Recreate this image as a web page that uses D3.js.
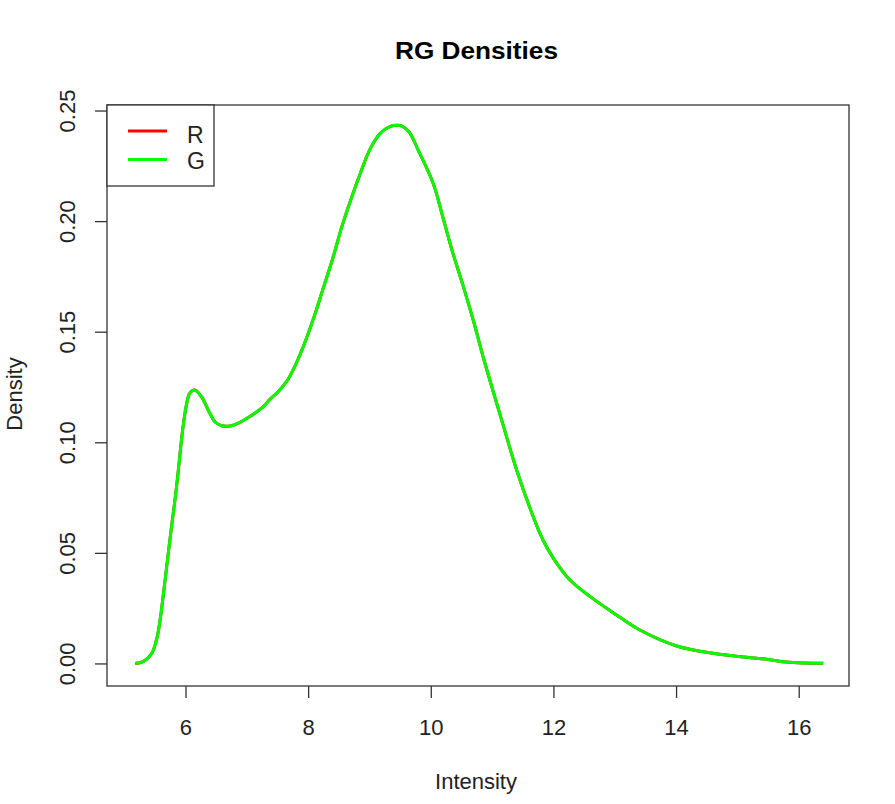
<!DOCTYPE html>
<meta charset="utf-8">
<style>
    html, body { margin: 0; padding: 0; background: #fff; }
    body { width: 895px; height: 804px; overflow: hidden; }
    text { font-family: "Liberation Sans", Arial, sans-serif; fill: #222; }
</style>
<script src="https://d3js.org/d3.v7.min.js"></script>
<div id="chart"></div>
<script>
    // density curve (G channel; R is hidden under it)
    const intensity = [5.18, 5.31, 5.45, 5.53, 5.58, 5.63, 5.72, 5.78, 5.84, 5.88, 5.96, 6.02, 6.07, 6.15, 6.26, 6.37,
        6.48, 6.59, 6.75, 6.89, 7.05, 7.27, 7.38, 7.5, 7.65, 7.76, 7.92, 8.1, 8.25, 8.4, 8.55, 8.7, 8.85, 9.0,
        9.17, 9.34, 9.45, 9.53, 9.65, 9.8, 10.04, 10.2, 10.35, 10.53, 10.7, 10.86, 11.13, 11.4, 11.67, 11.83,
        12.0, 12.27, 12.6, 13.03, 13.41, 14.01, 14.6, 15.15, 15.5, 15.8, 16.1, 16.4];
    const densityG = [0.0, 0.0008, 0.0046, 0.011, 0.0185, 0.029, 0.05, 0.0635, 0.0765, 0.0865, 0.107, 0.1176, 0.1222,
        0.1236, 0.1206, 0.1146, 0.1093, 0.1075, 0.1075, 0.109, 0.1116, 0.1161, 0.1195, 0.1225, 0.1275, 0.133,
        0.1432, 0.157, 0.17, 0.183, 0.1975, 0.21, 0.2215, 0.232, 0.2395, 0.2428, 0.2433, 0.243, 0.2402, 0.2318,
        0.217, 0.2015, 0.1865, 0.1705, 0.1545, 0.138, 0.1125, 0.0875, 0.0664, 0.0558, 0.0475, 0.0377, 0.0302,
        0.0219, 0.0151, 0.0079, 0.0046, 0.0028, 0.0018, 0.0006, 0.0002, 0.0001];
    const densityR = densityG.slice();

    const xTicks = [6, 8, 10, 12, 14, 16];
    const yTicks = [0, 0.05, 0.10, 0.15, 0.20, 0.25];
    const legendKeys = ["R", "G"];
    const colors = {R: "#ff0000", G: "#00ff00"};

    const W = 895, H = 804;
    const box = {left: 107, right: 849, top: 105, bottom: 686};

    const svg = d3.select("#chart").append("svg")
        .attr("width", W).attr("height", H);

    const x = d3.scaleLinear().domain([4.72, 16.82]).range([box.left, box.right]);
    const y = d3.scaleLinear().domain([-0.0102, 0.2525]).range([box.bottom, box.top]);

    // title
    svg.append("text")
        .attr("x", 395).attr("y", 59)
        .attr("textLength", 163).attr("lengthAdjust", "spacingAndGlyphs")
        .style("font-size", "23px").style("font-weight", "bold").style("fill", "#000")
        .text("RG Densities");

    // x axis
    const xa = svg.append("g")
        .attr("transform", `translate(0,${box.bottom})`)
        .call(d3.axisBottom(x).tickValues(xTicks).tickSize(12).tickSizeOuter(0).tickPadding(22)
            .tickFormat(d3.format("d")));
    xa.select(".domain").remove();
    xa.selectAll("line").attr("stroke", "#333").attr("stroke-width", 1.3);
    xa.selectAll("text")
        .attr("y", 49).attr("dy", null)
        .style("font-size", "22px").style("fill", "#222");

    // y axis
    const ya = svg.append("g")
        .attr("transform", `translate(${box.left},0)`)
        .call(d3.axisLeft(y).tickValues(yTicks).tickSize(12).tickSizeOuter(0).tickFormat(d3.format(".2f")));
    ya.select(".domain").remove();
    ya.selectAll("line").attr("stroke", "#333").attr("stroke-width", 1.3);
    ya.selectAll("text")
        .attr("x", null).attr("dy", null)
        .attr("transform", "translate(-32,0) rotate(-90)")
        .attr("text-anchor", "middle")
        .style("font-size", "22px").style("fill", "#222");

    // axis titles
    svg.append("text")
        .attr("x", 476).attr("y", 789)
        .attr("text-anchor", "middle").style("font-size", "22px")
        .text("Intensity");
    svg.append("text")
        .attr("transform", `translate(22,394) rotate(-90)`)
        .attr("text-anchor", "middle")
        .style("font-size", "22px")
        .text("Density");

    // curves
    const line = d3.line()
        .x(d => x(d[0])).y(d => y(d[1]))
        .curve(d3.curveCatmullRom.alpha(0.5));
    const series = [
        {key: "R", values: intensity.map((v, i) => [v, densityR[i]])},
        {key: "G", values: intensity.map((v, i) => [v, densityG[i]])}
    ];
    svg.append("g").selectAll("path")
        .data(series)
        .join("path")
        .attr("d", d => line(d.values))
        .attr("fill", "none")
        .attr("stroke", d => colors[d.key])
        .attr("stroke-width", 3)
        .attr("stroke-linejoin", "round");

    // plot box
    svg.append("rect")
        .attr("x", box.left).attr("y", box.top)
        .attr("width", box.right - box.left).attr("height", box.bottom - box.top)
        .attr("fill", "none").attr("stroke", "#333").attr("stroke-width", 1.3);

    // legend
    const lg = svg.append("g");
    lg.append("rect")
        .attr("x", box.left).attr("y", box.top)
        .attr("width", 107).attr("height", 81)
        .attr("fill", "#fff").attr("stroke", "#333").attr("stroke-width", 1.3);
    legendKeys.forEach((k, i) => {
        const ly = 131 + i * 28.5;
        lg.append("line")
            .attr("x1", 128).attr("x2", 167).attr("y1", ly).attr("y2", ly)
            .attr("stroke", colors[k]).attr("stroke-width", 3);
        lg.append("text")
            .attr("x", 187).attr("y", 142.5 + i * 26.5)
            .style("font-size", "23px")
            .text(k);
    });
</script>
